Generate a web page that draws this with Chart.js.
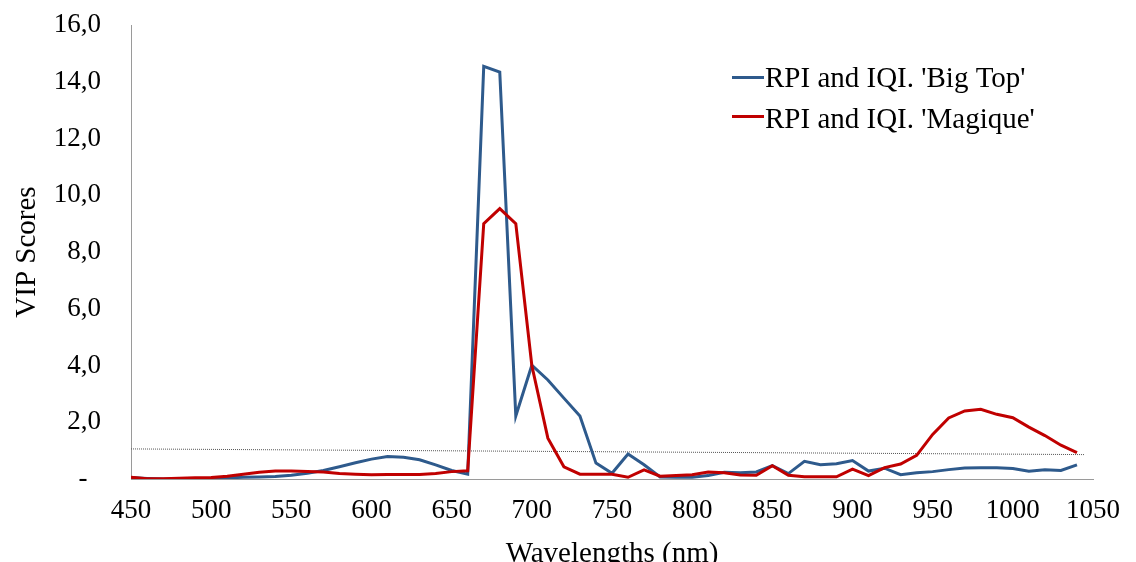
<!DOCTYPE html>
<html>
<head>
<meta charset="utf-8">
<script src="https://cdn.jsdelivr.net/npm/chart.js@4/dist/chart.umd.min.js"></script>
<style>
  html, body { margin: 0; padding: 0; background: #ffffff; }
  #wrap { width: 1136px; height: 562px; position: relative; }
</style>
</head>
<body>
<div id="wrap"><canvas id="vip"></canvas></div>
<script>
// Wavelengths (nm) at which VIP scores were computed
const wavelengths = [
  450, 460, 470, 480, 490, 500, 510, 520, 530, 540,
  550, 560, 570, 580, 590, 600, 610, 620, 630, 640,
  650, 660, 670, 680, 690, 700, 710, 720, 730, 740,
  750, 760, 770, 780, 790, 800, 810, 820, 830, 840,
  850, 860, 870, 880, 890, 900, 910, 920, 930, 940,
  950, 960, 970, 980, 990, 1000, 1010, 1020, 1030, 1040
];

// VIP scores, cultivar 'Big Top'
const vipBigTop = [
  0.05, 0.02, 0.00, 0.00, 0.00, 0.02, 0.04, 0.06, 0.07, 0.09,
  0.13, 0.20, 0.30, 0.43, 0.57, 0.70, 0.79, 0.77, 0.68, 0.50,
  0.30, 0.17, 14.54, 14.34, 2.22, 4.01, 3.49, 2.85, 2.22, 0.56,
  0.20, 0.88, 0.50, 0.07, 0.06, 0.06, 0.12, 0.24, 0.22, 0.25,
  0.47, 0.19, 0.62, 0.50, 0.54, 0.65, 0.28, 0.38, 0.15, 0.22,
  0.26, 0.33, 0.39, 0.40, 0.40, 0.37, 0.27, 0.33, 0.30, 0.50
];

// VIP scores, cultivar 'Magique'
const vipMagique = [
  0.06, 0.01, 0.01, 0.03, 0.04, 0.05, 0.10, 0.17, 0.24, 0.28,
  0.28, 0.26, 0.25, 0.19, 0.17, 0.15, 0.16, 0.16, 0.16, 0.19,
  0.26, 0.29, 9.00, 9.53, 9.00, 4.00, 1.44, 0.43, 0.17, 0.17,
  0.17, 0.06, 0.32, 0.10, 0.12, 0.15, 0.25, 0.22, 0.14, 0.13,
  0.47, 0.13, 0.08, 0.08, 0.08, 0.35, 0.12, 0.40, 0.53, 0.83,
  1.57, 2.15, 2.40, 2.46, 2.28, 2.16, 1.83, 1.53, 1.19, 0.93
];

// Hand-drawn VIP = 1 reference line (end points)
const thresholdX = [450, 1045];
const thresholdY = [1.06, 0.86];

const seriesLabels = ["RPI and IQI. 'Big Top'", "RPI and IQI. 'Magique'"];
const seriesColors = ['#2E5A8C', '#C00000'];

const xTicks = [450, 500, 550, 600, 650, 700, 750, 800, 850, 900, 950, 1000, 1050];
const yTicks = [0, 2, 4, 6, 8, 10, 12, 14, 16];

const SERIF = '"Liberation Serif", "Times New Roman", serif';
Chart.defaults.font.family = SERIF;
Chart.defaults.color = '#000000';

const toPoints = (xs, ys) => xs.map((x, i) => ({ x: x, y: ys[i] }));

// Legend drawn as two stacked rows inside the plot area
const stackedLegend = {
  id: 'stackedLegend',
  afterDraw(chart) {
    const ctx = chart.ctx;
    ctx.save();
    ctx.font = '29px ' + SERIF;
    ctx.textBaseline = 'alphabetic';
    ctx.textAlign = 'left';
    const rows = [{ line: 77.5, base: 86.5 }, { line: 116.5, base: 127.5 }];
    chart.data.datasets.forEach((ds) => {
      if (ds.legendRow === undefined) return;
      const r = rows[ds.legendRow];
      ctx.strokeStyle = ds.borderColor;
      ctx.lineWidth = 3;
      ctx.beginPath();
      ctx.moveTo(732, r.line);
      ctx.lineTo(764, r.line);
      ctx.stroke();
      ctx.fillStyle = '#000000';
      ctx.fillText(ds.label, 765, r.base);
    });
    ctx.restore();
  }
};

new Chart(document.getElementById('vip'), {
  type: 'line',
  data: {
    datasets: [
      {
        label: seriesLabels[0],
        data: toPoints(wavelengths, vipBigTop),
        borderColor: seriesColors[0],
        borderWidth: 3,
        pointRadius: 0,
        tension: 0,
        order: 2,
        legendRow: 0
      },
      {
        label: seriesLabels[1],
        data: toPoints(wavelengths, vipMagique),
        borderColor: seriesColors[1],
        borderWidth: 3,
        pointRadius: 0,
        tension: 0,
        order: 1,
        legendRow: 1
      },
      {
        label: 'VIP = 1',
        data: toPoints(thresholdX, thresholdY),
        borderColor: '#555555',
        borderWidth: 1,
        borderDash: [1, 1],
        pointRadius: 0,
        order: 3
      }
    ]
  },
  options: {
    responsive: true,
    maintainAspectRatio: false,
    animation: false,
    layout: { padding: { left: 0, right: 36, top: 0, bottom: 0 } },
    plugins: {
      legend: { display: false },
      tooltip: { enabled: false }
    },
    scales: {
      x: {
        type: 'linear',
        min: 450,
        max: 1050,
        afterBuildTicks(scale) { scale.ticks = xTicks.map(v => ({ value: v })); },
        afterFit(scale) { scale.height = 83; },
        grid: { display: false, drawTicks: false },
        border: { display: true, color: '#9a9a9a', width: 1 },
        ticks: {
          font: { size: 27 },
          padding: 16,
          maxRotation: 0,
          autoSkip: false,
          callback: (v) => String(v)
        },
        title: {
          display: true,
          text: 'Wavelengths (nm)',
          font: { size: 29 },
          padding: { top: 0, bottom: -10 }
        }
      },
      y: {
        min: 0,
        max: 16,
        afterBuildTicks(scale) { scale.ticks = yTicks.map(v => ({ value: v })); },
        afterFit(scale) {
          scale.width = 131;
          scale.paddingTop = 25;
          scale.paddingBottom = 0;
        },
        grid: { display: false, drawTicks: false },
        border: { display: true, color: '#9a9a9a', width: 1 },
        ticks: {
          font: { size: 27 },
          padding: 30,
          callback: (v) => v === 0 ? '-  ' : v.toFixed(1).replace('.', ',')
        },
        title: {
          display: true,
          text: 'VIP Scores',
          font: { size: 29 },
          padding: { top: 10, bottom: 0 }
        }
      }
    }
  },
  plugins: [stackedLegend]
});
</script>
</body>
</html>
